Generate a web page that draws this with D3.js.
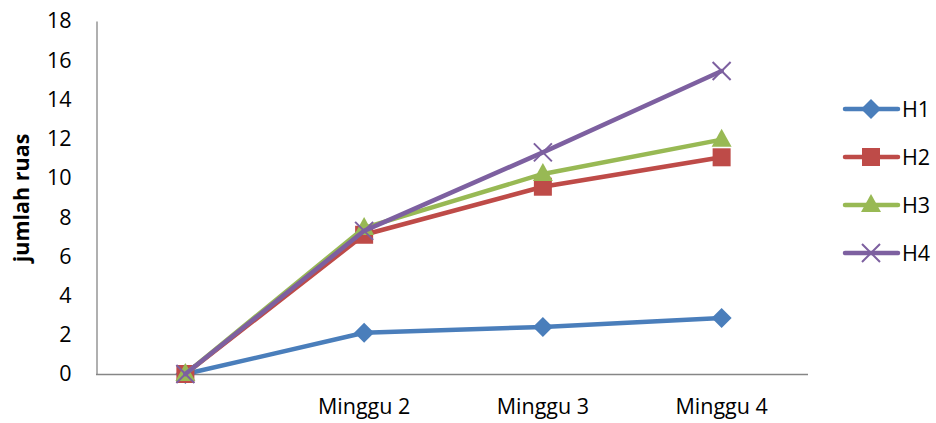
<!DOCTYPE html>
<html><head><meta charset="utf-8">
<script src="https://cdn.jsdelivr.net/npm/d3@7"></script>
<style>html,body{margin:0;padding:0;background:#fff;}</style>
</head><body>
<svg id="chart" width="936" height="423"></svg>
<script>
const categories = ["", "Minggu 2", "Minggu 3", "Minggu 4"];
const seriesNames = ["H1", "H2", "H3", "H4"];
const H1 = [0, 2.1, 2.4, 2.85];
const H2 = [0, 7.1, 9.55, 11.05];
const H3 = [0, 7.45, 10.2, 11.95];
const H4 = [0, 7.3, 11.3, 15.45];
const yTicks = [0, 2, 4, 6, 8, 10, 12, 14, 16, 18];
const colors = ["#4a7ebb", "#be4b48", "#98b954", "#7d60a0"];
const markers = ["diamond", "square", "triangle", "x"];
const seriesData = [H1, H2, H3, H4];

const svg = d3.select("#chart");
const font = "'Open Sans', 'Noto Sans', sans-serif";
const fs = 21.5;
const x = d3.scaleBand().domain(categories.map((c,i)=>i)).range([96, 811]).padding(0);
const y = d3.scaleLinear().domain([0, 18]).range([374, 21]);
const cx = i => x(i) + x.bandwidth()/2;

// axes
const yAxis = svg.append("g").attr("transform","translate(96.5,0)")
  .call(d3.axisLeft(y).tickValues(yTicks).tickSize(0).tickPadding(25));
yAxis.select(".domain").attr("stroke","#868686").attr("stroke-width",1.3);
yAxis.selectAll("text").attr("font-family",font).attr("font-size",fs).attr("fill","#000");

const xAxis = svg.append("g").attr("transform","translate(0,374.5)")
  .call(d3.axisBottom(x).tickSize(0).tickPadding(24).tickFormat(i=>categories[i]));
xAxis.select(".domain").attr("stroke","#868686").attr("stroke-width",1.3).attr("d","M96,0H808");
xAxis.selectAll("text").attr("font-family",font).attr("font-size",fs).attr("fill","#000");

svg.append("text").attr("transform","translate(29,198) rotate(-90)")
  .attr("text-anchor","middle").attr("font-family",font).attr("font-weight","bold")
  .attr("font-size",21.5).text("jumlah ruas");

function drawMarker(g, type, color, px, py) {
  if (type === "diamond") {
    g.append("path").attr("d", `M${px},${py-10}L${px+10},${py}L${px},${py+10}L${px-10},${py}Z`).attr("fill", color);
  } else if (type === "square") {
    g.append("rect").attr("x", px-9).attr("y", py-9).attr("width",18).attr("height",18).attr("fill", color);
  } else if (type === "triangle") {
    g.append("path").attr("d", `M${px},${py-11}L${px+10},${py+7}L${px-10},${py+7}Z`).attr("fill", color);
  } else {
    g.append("path").attr("d", `M${px-9},${py-9}L${px+9},${py+9}M${px+9},${py-9}L${px-9},${py+9}`)
      .attr("stroke", color).attr("stroke-width",2);
  }
}

const line = d3.line().x((d,i)=>cx(i)).y(d=>y(d));
seriesData.forEach((vals, s) => {
  const g = svg.append("g");
  g.append("path").datum(vals).attr("d", line).attr("fill","none")
    .attr("stroke", colors[s]).attr("stroke-width",4.5).attr("stroke-linejoin","round").attr("stroke-linecap","round");
  vals.forEach((v,i)=>drawMarker(g, markers[s], colors[s], cx(i), y(v)));
});

// legend
const legendY = d3.scalePoint().domain(seriesNames).range([109, 253]);
seriesNames.forEach((n, s) => {
  const g = svg.append("g");
  const ly = legendY(n);
  g.append("line").attr("x1",845).attr("x2",898).attr("y1",ly).attr("y2",ly)
    .attr("stroke",colors[s]).attr("stroke-width",4.5).attr("stroke-linecap","round");
  drawMarker(g, markers[s], colors[s], 871, ly);
  g.append("text").attr("x",902).attr("y",ly).attr("dy","0.36em").attr("font-family",font)
    .attr("font-size",fs).text(n);
});
</script>
</body></html>
